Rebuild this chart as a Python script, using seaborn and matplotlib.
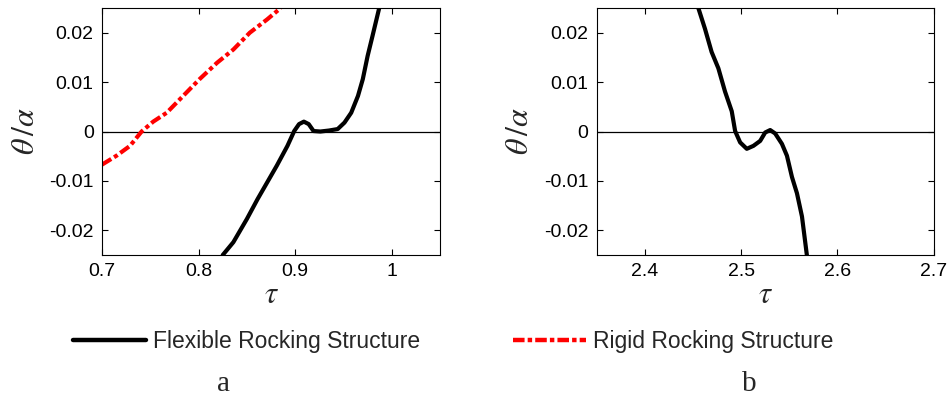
import matplotlib
matplotlib.use("Agg")
import matplotlib.pyplot as plt
import seaborn as sns
import pandas as pd
from matplotlib.lines import Line2D

# Panel a: flexible rocking structure
flex_a_tau = [0.825, 0.836, 0.850, 0.861, 0.871, 0.881, 0.892, 0.899, 0.904, 0.909,
              0.914, 0.919, 0.926, 0.935, 0.944, 0.951, 0.958, 0.965, 0.970, 0.975,
              0.980, 0.987]
flex_a_theta = [-0.0250, -0.0224, -0.0177, -0.0137, -0.0103, -0.0069, -0.0029, 0.0001,
                0.0015, 0.0020, 0.0015, 0.0001, 0.0000, 0.0002, 0.0005, 0.0018, 0.0038,
                0.0072, 0.0106, 0.0153, 0.0193, 0.0250]
# Panel a: rigid rocking structure
rigid_a_tau = [0.700, 0.715, 0.729, 0.741, 0.753, 0.767, 0.784, 0.801, 0.819, 0.836,
               0.853, 0.871, 0.885]
rigid_a_theta = [-0.0067, -0.0049, -0.0029, 0.0000, 0.0020, 0.0038, 0.0072, 0.0106,
                 0.0139, 0.0166, 0.0200, 0.0227, 0.0250]
# Panel b: flexible rocking structure
flex_b_tau = [2.4556, 2.4625, 2.4694, 2.4764, 2.4833, 2.4903, 2.4938, 2.4990, 2.5059,
              2.5128, 2.5198, 2.5250, 2.5302, 2.5354, 2.5424, 2.5476, 2.5528, 2.5580,
              2.5632, 2.5684]
flex_b_theta = [0.0250, 0.0208, 0.0161, 0.0128, 0.0081, 0.0041, 0.0001, -0.0022, -0.0035,
                -0.0029, -0.0019, -0.0002, 0.0003, -0.0004, -0.0025, -0.0049, -0.0092,
                -0.0125, -0.0172, -0.0252]

xticks_a = [0.7, 0.8, 0.9, 1.0]
xticklabels_a = ["0.7", "0.8", "0.9", "1"]
xticks_b = [2.4, 2.5, 2.6, 2.7]
xticklabels_b = ["2.4", "2.5", "2.6", "2.7"]
yticks = [-0.02, -0.01, 0.0, 0.01, 0.02]
yticklabels = ["-0.02", "-0.01", "0", "0.01", "0.02"]
legend_labels = ["Flexible Rocking Structure", "Rigid Rocking Structure"]
panel_labels = ["a", "b"]

sns.set_style("ticks")
plt.rcParams["font.family"] = ["Liberation Sans", "DejaVu Sans"]
plt.rcParams["mathtext.fontset"] = "stix"

fig = plt.figure(figsize=(9.47, 4.01), dpi=100)
ax1 = fig.add_axes([0.1077, 0.364, 0.357, 0.616])
ax2 = fig.add_axes([0.630, 0.364, 0.356, 0.616])

df_fa = pd.DataFrame({"tau": flex_a_tau, "theta": flex_a_theta})
df_ra = pd.DataFrame({"tau": rigid_a_tau, "theta": rigid_a_theta})
df_fb = pd.DataFrame({"tau": flex_b_tau, "theta": flex_b_theta})

sns.lineplot(data=df_ra, x="tau", y="theta", ax=ax1, color="red", lw=3,
             sort=False, estimator=None)
ax1.lines[-1].set_dashes((2.6, 0.8, 1.0, 0.8))
sns.lineplot(data=df_fa, x="tau", y="theta", ax=ax1, color="black", lw=3,
             sort=False, estimator=None)
sns.lineplot(data=df_fb, x="tau", y="theta", ax=ax2, color="black", lw=3,
             sort=False, estimator=None)

for ax, xl, xt, xtl in [(ax1, (0.7, 1.05), xticks_a, xticklabels_a),
                        (ax2, (2.35, 2.7), xticks_b, xticklabels_b)]:
    ax.axhline(0, color="black", lw=0.9, zorder=1)
    ax.set_xlim(*xl)
    ax.set_ylim(-0.025, 0.025)
    ax.set_xticks(xt)
    ax.set_xticklabels(xtl)
    ax.set_yticks(yticks)
    ax.set_yticklabels(yticklabels)
    ax.tick_params(direction="in", top=True, right=True, length=4, width=0.8,
                   labelsize=14, pad=6, colors="black")
    for s in ax.spines.values():
        s.set_visible(True)
        s.set_linewidth(0.8)
        s.set_color("black")
    ax.set_xlabel(r"$\tau$", fontsize=22, labelpad=0)
    ax.set_ylabel(r"$\theta\,/\alpha$", fontsize=23, labelpad=6)

# Legend
lprop = {"family": ["Liberation Sans", "DejaVu Sans"], "size": 16.5}
h1 = Line2D([], [], color="black", lw=3.2)
h2 = Line2D([], [], color="red", lw=3.2, dashes=(2.6, 0.7, 1.0, 0.7))
fig.legend([h1], [legend_labels[0]], loc="center left", bbox_to_anchor=(0.0771, 0.1484),
           frameon=False, handlelength=3.2, handletextpad=0.3, borderpad=0,
           borderaxespad=0, prop=lprop)
fig.legend([h2], [legend_labels[1]], loc="center left", bbox_to_anchor=(0.5417, 0.1484),
           frameon=False, handlelength=3.2, handletextpad=0.3, borderpad=0,
           borderaxespad=0, prop=lprop)

fig.text(0.2355, 0.024, panel_labels[0], ha="center", va="baseline", fontsize=21,
         family=["Liberation Serif", "DejaVu Serif"])
fig.text(0.791, 0.024, panel_labels[1], ha="center", va="baseline", fontsize=21,
         family=["Liberation Serif", "DejaVu Serif"])

fig.savefig("out.png", dpi=100)
